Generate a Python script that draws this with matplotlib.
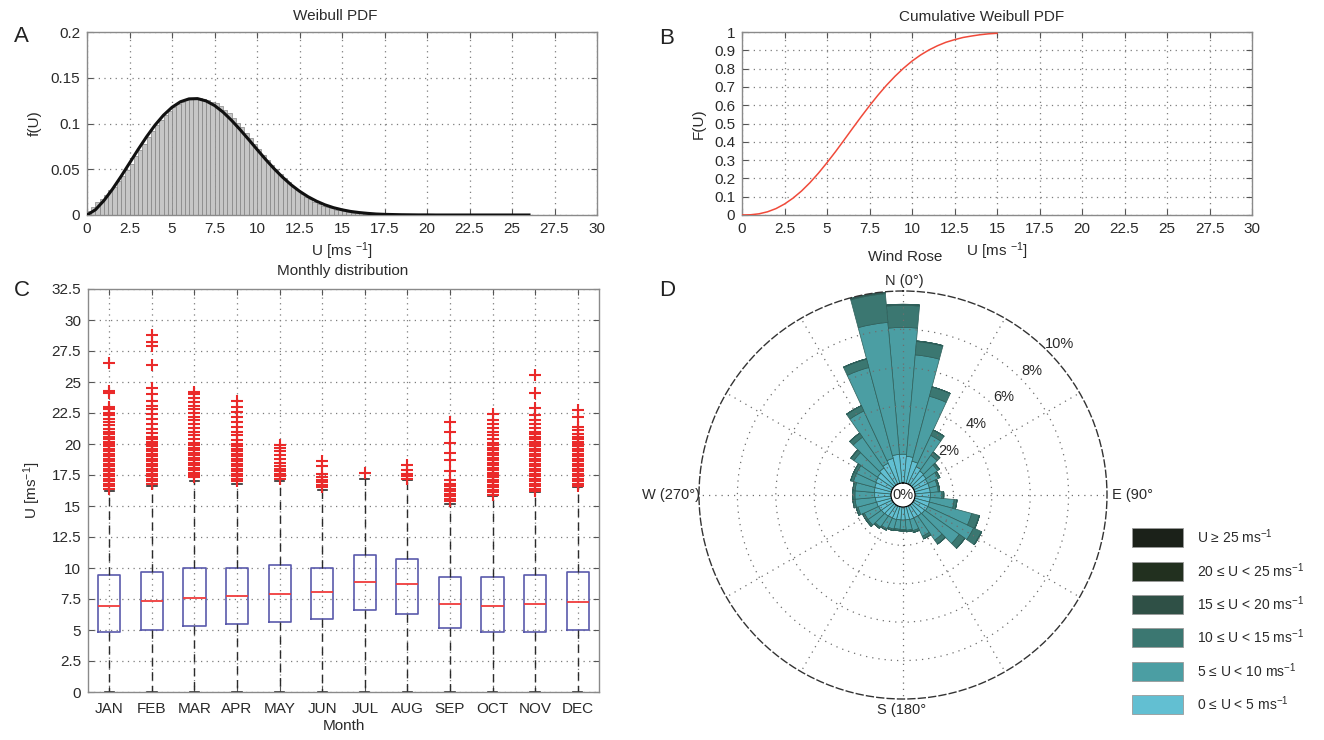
import numpy as np
import matplotlib
matplotlib.use("Agg")
import matplotlib.pyplot as plt
from matplotlib.patches import Rectangle
from matplotlib import font_manager

# ------------------------------------------------------------------ data
# Panel A : histogram of wind speed (0.25 m/s bins from 0) and Weibull pdf (0.5 m/s steps from 0)
hist_bin_width = 0.25
hist_vals = [0.004, 0.009, 0.014, 0.018, 0.022, 0.027, 0.031, 0.037,
             0.043, 0.049, 0.056, 0.064, 0.071, 0.078, 0.085, 0.092,
             0.098, 0.104, 0.109, 0.114, 0.118, 0.121, 0.124, 0.126,
             0.127, 0.128, 0.128, 0.127, 0.126, 0.124, 0.122, 0.119,
             0.115, 0.111, 0.106, 0.101, 0.096, 0.090, 0.084, 0.078,
             0.072, 0.066, 0.060, 0.055, 0.050, 0.045, 0.040, 0.036,
             0.031, 0.027, 0.023, 0.020, 0.017, 0.014, 0.012, 0.010,
             0.0085, 0.0072, 0.0060, 0.0050, 0.0040, 0.0033, 0.0027, 0.0022,
             0.0018, 0.0015, 0.0012, 0.0010, 0.0008, 0.0006, 0.0005, 0.0004,
             0.0003, 0.0003, 0.0002, 0.0002, 0.0001, 0.0001, 0.0001, 0.0001,
             0, 0, 0, 0, 0, 0, 0, 0, 0, 0, 0, 0,
             0, 0, 0, 0, 0, 0, 0, 0, 0, 0, 0, 0]
pdf_step = 0.5
pdf_vals = [0.0, 0.0058, 0.0159, 0.0283, 0.0421, 0.0567, 0.0714, 0.0854, 0.0982,
            0.1091, 0.1177, 0.1238, 0.1269, 0.1272, 0.1247, 0.1197, 0.1125,
            0.1035, 0.0934, 0.0827, 0.0717, 0.0609, 0.0507, 0.0414, 0.0331,
            0.0260, 0.0200, 0.0151, 0.0111, 0.0080, 0.0057, 0.0039, 0.0027,
            0.0018, 0.0011, 0.0007, 0.0005, 0.0003, 0.0002, 0.0001, 0.0001,
            0, 0, 0, 0, 0, 0, 0, 0, 0, 0, 0, 0]
# Panel B : cumulative distribution (0.5 m/s steps from 0 to 15)
cdf_step = 0.5
cdf_vals = [0.0, 0.0012, 0.0065, 0.0175, 0.035, 0.060, 0.092, 0.131, 0.177,
            0.229, 0.286, 0.346, 0.409, 0.473, 0.536, 0.597, 0.655, 0.709,
            0.758, 0.802, 0.841, 0.874, 0.902, 0.925, 0.944, 0.958, 0.970,
            0.978, 0.985, 0.990, 0.993]
u_ticks = [0, 2.5, 5, 7.5, 10, 12.5, 15, 17.5, 20, 22.5, 25, 27.5, 30]

# Panel C : monthly box plots
months = ['JAN', 'FEB', 'MAR', 'APR', 'MAY', 'JUN', 'JUL', 'AUG', 'SEP', 'OCT', 'NOV', 'DEC']
box_q1 = [4.85, 5.03, 5.33, 5.52, 5.65, 5.92, 6.60, 6.33, 5.17, 4.85, 4.85, 5.03]
box_med = [6.95, 7.30, 7.60, 7.78, 7.94, 8.08, 8.89, 8.75, 7.13, 6.95, 7.13, 7.27]
box_q3 = [9.42, 9.69, 10.04, 10.04, 10.23, 10.04, 11.04, 10.69, 9.24, 9.24, 9.40, 9.67]
box_lo = [0, 0, 0, 0, 0, 0, 0, 0, 0, 0, 0, 0]
box_hi = [16.2, 16.6, 17.0, 16.8, 17.0, 16.3, 17.2, 17.1, 15.2, 15.8, 16.1, 16.5]
fl_jan = [16.4, 16.6, 16.8, 17.0, 17.2, 17.4, 17.6, 17.8, 18.0, 18.2, 18.4, 18.6, 18.8, 19.0,
          19.2, 19.4, 19.6, 19.8, 20.0, 20.2, 20.4, 20.6, 20.8, 21.0, 21.2, 21.5, 21.8, 22.0,
          22.3, 22.5, 22.8, 23.0, 24.1, 24.3, 26.5]
fl_feb = [16.8, 17.0, 17.2, 17.4, 17.6, 17.8, 18.0, 18.2, 18.4, 18.6, 18.8, 19.0, 19.2, 19.4,
          19.6, 19.8, 20.0, 20.2, 20.4, 20.6, 20.9, 21.2, 21.6, 22.0, 22.4, 22.8, 23.1, 23.5,
          24.0, 24.5, 26.4, 27.9, 28.2, 28.8]
fl_mar = [17.3, 17.5, 17.7, 17.9, 18.1, 18.3, 18.5, 18.7, 18.9, 19.1, 19.3, 19.5, 19.7, 19.9,
          20.1, 20.4, 20.7, 21.0, 21.3, 21.6, 21.9, 22.2, 22.5, 22.8, 23.1, 23.4, 23.7, 24.0, 24.2]
fl_apr = [17.0, 17.2, 17.4, 17.6, 17.8, 18.0, 18.2, 18.4, 18.6, 18.8, 19.0, 19.2, 19.4, 19.6,
          19.8, 20.0, 20.3, 20.7, 21.0, 21.4, 21.8, 22.2, 22.6, 23.0, 23.5]
fl_may = [17.2, 17.4, 17.6, 17.8, 18.0, 18.2, 18.5, 18.8, 19.1, 19.4, 19.7, 19.9]
fl_jun = [16.5, 16.7, 16.9, 17.1, 17.3, 17.6, 18.2, 18.6]
fl_jul = [17.7]
fl_aug = [17.2, 17.4, 17.6, 17.9, 18.3]
fl_sep = [15.4, 15.6, 15.8, 16.0, 16.2, 16.4, 16.6, 16.8, 17.1, 17.8, 18.7, 19.25, 20.05, 21.0, 21.8]
fl_oct = [15.9, 16.1, 16.3, 16.5, 16.7, 16.9, 17.1, 17.3, 17.5, 17.7, 17.9, 18.1, 18.3, 18.5,
          18.7, 18.9, 19.1, 19.3, 19.5, 19.7, 19.9, 20.1, 20.4, 20.7, 21.0, 21.3, 21.6, 21.9, 22.4]
fl_nov = [16.2, 16.4, 16.6, 16.8, 17.0, 17.2, 17.4, 17.6, 17.8, 18.0, 18.2, 18.4, 18.6, 18.8,
          19.0, 19.2, 19.4, 19.6, 19.8, 20.0, 20.2, 20.4, 20.6, 20.8, 21.0, 21.3, 21.6, 21.9,
          22.35, 22.9, 24.1, 25.6]
fl_dec = [16.6, 16.8, 17.0, 17.2, 17.4, 17.6, 17.8, 18.0, 18.2, 18.4, 18.6, 18.8, 19.0, 19.2,
          19.4, 19.6, 19.8, 20.0, 20.2, 20.4, 20.6, 20.8, 21.1, 21.4, 22.2, 22.75]
fliers = [fl_jan, fl_feb, fl_mar, fl_apr, fl_may, fl_jun, fl_jul, fl_aug, fl_sep, fl_oct, fl_nov, fl_dec]
c_yticks = [0, 2.5, 5, 7.5, 10, 12.5, 15, 17.5, 20, 22.5, 25, 27.5, 30, 32.5]

# Panel D : wind rose, frequency (%) per 10 degree sector and speed class
rose_dirs = [0, 10, 20, 30, 40, 50, 60, 70, 80, 90, 100, 110, 120, 130, 140, 150, 160, 170,
             180, 190, 200, 210, 220, 230, 240, 250, 260, 270, 280, 290, 300, 310, 320, 330, 340, 350]
rose_0_5 = [1.50, 1.40, 1.20, 1.00, 0.90, 0.85, 0.80, 0.80, 0.80, 0.80, 0.80, 0.80, 0.80, 0.75,
            0.72, 0.70, 0.70, 0.68, 0.68, 0.68, 0.70, 0.70, 0.72, 0.75, 0.78, 0.80, 0.82, 0.85,
            0.88, 0.90, 0.95, 1.00, 1.10, 1.20, 1.35, 1.50]
rose_5_10 = [6.60, 5.30, 3.50, 1.80, 1.00, 0.73, 0.60, 0.42, 0.42, 0.60, 1.25, 2.28, 2.63, 2.20,
             1.53, 1.05, 0.60, 0.54, 0.49, 0.49, 0.52, 0.62, 0.70, 0.85, 0.82, 1.00, 1.06, 1.03,
             1.00, 1.15, 1.10, 1.50, 1.95, 3.00, 4.90, 6.90]
rose_10_15 = [1.15, 0.70, 0.50, 0.30, 0.20, 0.12, 0.10, 0.08, 0.08, 0.10, 0.15, 0.40, 0.45, 0.35,
              0.25, 0.15, 0.10, 0.08, 0.08, 0.08, 0.08, 0.08, 0.08, 0.10, 0.10, 0.10, 0.12, 0.12,
              0.12, 0.15, 0.15, 0.20, 0.25, 0.30, 0.45, 1.50]
rose_15_20 = [0.05, 0.03, 0.01, 0.01, 0, 0, 0, 0, 0, 0, 0, 0.02, 0.02, 0.01,
              0, 0, 0, 0, 0, 0, 0, 0, 0, 0, 0, 0, 0, 0,
              0, 0, 0, 0, 0.01, 0.01, 0.02, 0.06]
rose_20_25 = [0.01, 0, 0, 0, 0, 0, 0, 0, 0, 0, 0, 0, 0, 0, 0, 0, 0, 0,
              0, 0, 0, 0, 0, 0, 0, 0, 0, 0, 0, 0, 0, 0, 0, 0, 0, 0.01]
rose_25p = [0] * 36
rose_classes = [rose_0_5, rose_5_10, rose_10_15, rose_15_20, rose_20_25, rose_25p]
rose_labels = ['0 \u2264 U < 5 ms$^{-1}$', '5 \u2264 U < 10 ms$^{-1}$', '10 \u2264 U < 15 ms$^{-1}$',
               '15 \u2264 U < 20 ms$^{-1}$', '20 \u2264 U < 25 ms$^{-1}$', 'U \u2265 25 ms$^{-1}$']
rose_colors = ['#62bfd2', '#4b9ea3', '#3b7771', '#2f5046', '#22301f', '#1b2119']
rose_rings = [2, 4, 6, 8, 10]

# ------------------------------------------------------------------ style
avail = {f.name for f in font_manager.fontManager.ttflist}
FONT = 'DejaVu Sans'
for cand in ['Liberation Sans', 'Roboto', 'Lato']:
    if cand in avail:
        FONT = cand
        break
plt.rcParams['font.family'] = [FONT, 'DejaVu Sans']
plt.rcParams['mathtext.default'] = 'regular'
plt.rcParams['font.size'] = 11

W, H = 1324, 740
fig = plt.figure(figsize=(W / 100, H / 100), dpi=100)


def frac(x, y):
    return x / W, 1 - y / H


def rect(x0, y0, x1, y1):
    return [x0 / W, 1 - y1 / H, (x1 - x0) / W, (y1 - y0) / H]


GRID = dict(color='#7d7d7d', linestyle=(0, (1, 3.5)), linewidth=0.9)
SPINE = '#8a8a8a'
TXT = '#2a2a2a'


def matlab_axes(ax):
    for s in ax.spines.values():
        s.set_color(SPINE)
        s.set_linewidth(1.0)
    ax.tick_params(direction='in', top=True, right=True, length=4, width=0.8,
                   color='#555555', labelcolor=TXT, labelsize=11, pad=5)
    ax.grid(True, **GRID)
    ax.set_axisbelow(True)


def fmt(v):
    return f'{v:g}'


# ------------------------------------------------------------------ Panel A
axA = fig.add_axes(rect(87, 32, 597, 215))
matlab_axes(axA)
bin_left = np.arange(len(hist_vals)) * hist_bin_width
axA.bar(bin_left, hist_vals, width=hist_bin_width, align='edge', color='#c6c6c6',
        edgecolor='#7c7c7c', linewidth=0.45, zorder=2)
u_pdf = np.arange(len(pdf_vals)) * pdf_step
axA.plot(u_pdf, pdf_vals, color='#111111', linewidth=2.2, zorder=3)
axA.set_xlim(0, 30)
axA.set_ylim(0, 0.2)
axA.set_xticks(u_ticks, [fmt(v) for v in u_ticks])
a_yt = [0, 0.05, 0.1, 0.15, 0.2]
axA.set_yticks(a_yt, [fmt(v) for v in a_yt])
axA.set_ylabel('f(U)', color=TXT, labelpad=6)
axA.set_xlabel('U [ms $^{-1}$]', color=TXT, labelpad=3)

# ------------------------------------------------------------------ Panel B
axB = fig.add_axes(rect(742, 32, 1252, 215))
matlab_axes(axB)
u_cdf = np.arange(len(cdf_vals)) * cdf_step
axB.plot(u_cdf, cdf_vals, color='#f04a3a', linewidth=1.1, zorder=3)
axB.set_xlim(0, 30)
axB.set_ylim(0, 1)
axB.set_xticks(u_ticks, [fmt(v) for v in u_ticks])
b_yt = [0, 0.1, 0.2, 0.3, 0.4, 0.5, 0.6, 0.7, 0.8, 0.9, 1]
axB.set_yticks(b_yt, [fmt(v) for v in b_yt])
axB.set_ylabel('F(U)', color=TXT, labelpad=6)
axB.set_xlabel('U [ms $^{-1}$]', color=TXT, labelpad=3)

# ------------------------------------------------------------------ Panel C
axC = fig.add_axes(rect(88, 289, 599, 692))
matlab_axes(axC)
stats = []
for i, m in enumerate(months):
    stats.append(dict(label=m, q1=box_q1[i], med=box_med[i], q3=box_q3[i],
                      whislo=box_lo[i], whishi=box_hi[i], fliers=fliers[i]))
axC.bxp(stats, positions=list(range(1, 13)), widths=0.52, capwidths=0.22,
        boxprops=dict(color='#5a5aac', linewidth=1.2),
        medianprops=dict(color='#f03c3c', linewidth=1.3),
        whiskerprops=dict(color='#2b2b2b', linewidth=1.0, linestyle=(0, (6, 4))),
        capprops=dict(color='#2b2b2b', linewidth=1.2),
        flierprops=dict(marker='+', markeredgecolor='#ea2a2a', markersize=8,
                        markeredgewidth=1.5, linestyle='none'))
axC.set_xlim(0.5, 12.5)
axC.set_ylim(0, 32.5)
axC.set_yticks(c_yticks, [fmt(v) for v in c_yticks])
axC.set_xticks(list(range(1, 13)), months)
axC.tick_params(axis='x', pad=7)
axC.set_xlabel('Month', color=TXT, labelpad=2)
axC.set_ylabel('U [ms$^{-1}$]', color=TXT, labelpad=6)

# ------------------------------------------------------------------ Panel D (wind rose)
cx, cy, R = 903, 495, 204
axD = fig.add_axes(rect(cx - R, cy - R, cx + R, cy + R), projection='polar')
axD.set_theta_zero_location('N')
axD.set_theta_direction(-1)
axD.set_rorigin(-0.625)
theta = np.deg2rad(rose_dirs)
bottom = np.zeros(len(rose_dirs))
for vals, col in zip(rose_classes, rose_colors):
    v = np.asarray(vals, dtype=float)
    axD.bar(theta, v, width=np.deg2rad(10), bottom=bottom, color=col,
            edgecolor='#2e5f5a', linewidth=0.5, zorder=1)
    bottom = bottom + v
axD.set_rlim(0, 10)
axD.set_xticks(np.deg2rad(np.arange(0, 360, 30)))
axD.set_xticklabels([])
axD.set_yticks(rose_rings[:-1])
axD.set_yticklabels([])
axD.grid(True, color='#6e6e6e', linestyle=(0, (1, 4)), linewidth=0.9)
axD.spines['polar'].set_linestyle((0, (5, 2.5)))
axD.spines['polar'].set_color('#333333')
axD.spines['polar'].set_linewidth(1.0)
if 'inner' in axD.spines:
    axD.spines['inner'].set_visible(False)
for rv in rose_rings:
    axD.text(np.deg2rad(46), rv + 0.7, f'{rv}%', ha='center', va='center',
             fontsize=10.5, color=TXT)
axD.text(0.5, 0.5, '0%', transform=axD.transAxes, ha='center', va='center',
         fontsize=10.5, color=TXT)

# direction labels
fig.text(*frac(904, 281), 'N (0\u00b0)', ha='center', va='center', fontsize=10.5, color=TXT)
fig.text(*frac(1112, 495), 'E (90\u00b0', ha='left', va='center', fontsize=10.5, color=TXT)
fig.text(*frac(902, 710), 'S (180\u00b0', ha='center', va='center', fontsize=10.5, color=TXT)
fig.text(*frac(700, 495), 'W (270\u00b0)', ha='right', va='center', fontsize=10.5, color=TXT)

# legend for speed classes (top entry = highest class)
lax = fig.add_axes(rect(1120, 515, 1320, 725))
lax.set_xlim(1120, 1320)
lax.set_ylim(725, 515)
lax.axis('off')
row_y = [537, 571, 604, 637, 671, 704]
for yc, lab, col in zip(row_y, rose_labels[::-1], rose_colors[::-1]):
    lax.add_patch(Rectangle((1132, yc - 9.5), 51, 19, facecolor=col, edgecolor='#9a9a9a',
                            linewidth=0.6))
    lax.text(1197, yc, lab, ha='left', va='center', fontsize=10, color=TXT)

# ------------------------------------------------------------------ titles and panel letters
fig.text(*frac(335, 16), 'Weibull PDF', ha='center', va='center', fontsize=11, color=TXT)
fig.text(*frac(982, 17), 'Cumulative Weibull PDF', ha='center', va='center', fontsize=11, color=TXT)
fig.text(*frac(343, 271), 'Monthly distribution', ha='center', va='center', fontsize=11, color=TXT)
fig.text(*frac(905, 257), 'Wind Rose', ha='center', va='center', fontsize=11, color=TXT)
for (x, y), letter in zip([(21, 36), (667, 38), (22, 290), (667, 290)], ['A', 'B', 'C', 'D']):
    fig.text(*frac(x, y), letter, ha='center', va='center', fontsize=16, color='#222222')

fig.savefig('out.png', dpi=100)
